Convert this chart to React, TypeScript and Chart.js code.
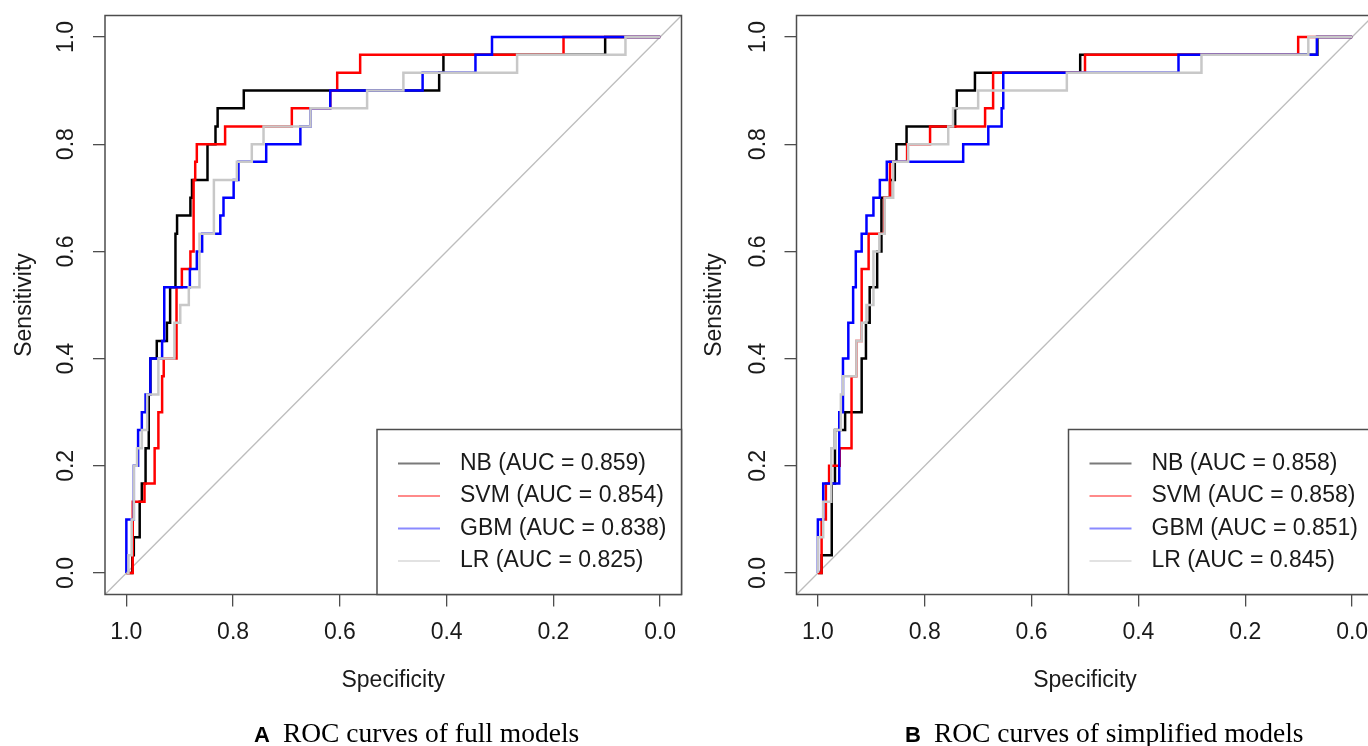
import React, { useEffect, useRef } from "react";
import { Chart, registerables } from "chart.js";

Chart.register(...registerables);

// ---------- data ----------
const tickValues = [0, 0.2, 0.4, 0.6, 0.8, 1.0];
const modelNames = ["NB", "SVM", "GBM", "LR"];
const aucFull = ["0.859", "0.854", "0.838", "0.825"];
const aucSimplified = ["0.858", "0.858", "0.851", "0.845"];

// Panel A: ROC curves of full models (specificity, sensitivity corner points)
const fullNbSpec = [1, 0.989, 0.986, 0.975, 0.971, 0.964, 0.958, 0.955, 0.943, 0.924, 0.918, 0.908, 0.905, 0.88, 0.877, 0.848, 0.833, 0.829, 0.78, 0.414, 0.406, 0.103, 0];
const fullNbSens = [0, 0.033, 0.067, 0.133, 0.167, 0.233, 0.333, 0.4, 0.433, 0.467, 0.533, 0.633, 0.667, 0.7, 0.733, 0.8, 0.833, 0.867, 0.9, 0.933, 0.967, 1, 1];
const fullSvmSpec = [1, 0.988, 0.966, 0.947, 0.94, 0.933, 0.93, 0.906, 0.896, 0.88, 0.874, 0.871, 0.868, 0.815, 0.69, 0.618, 0.605, 0.562, 0.181, 0];
const fullSvmSens = [0, 0.133, 0.167, 0.233, 0.3, 0.367, 0.4, 0.533, 0.567, 0.6, 0.733, 0.767, 0.8, 0.833, 0.867, 0.9, 0.933, 0.967, 1, 1];
const fullGbmSpec = [1, 1, 0.986, 0.978, 0.971, 0.964, 0.955, 0.933, 0.929, 0.881, 0.868, 0.858, 0.824, 0.818, 0.799, 0.79, 0.738, 0.674, 0.655, 0.618, 0.445, 0.346, 0.315, 0];
const fullGbmSens = [0, 0.1, 0.2, 0.267, 0.3, 0.333, 0.4, 0.433, 0.533, 0.567, 0.6, 0.633, 0.667, 0.7, 0.733, 0.767, 0.8, 0.833, 0.867, 0.9, 0.933, 0.967, 1, 1];
const fullLrSpec = [1, 0.996, 0.99, 0.986, 0.98, 0.971, 0.961, 0.94, 0.91, 0.899, 0.883, 0.863, 0.836, 0.793, 0.765, 0.743, 0.655, 0.549, 0.481, 0.268, 0.065, 0];
const fullLrSens = [0, 0.033, 0.1, 0.2, 0.233, 0.267, 0.333, 0.4, 0.467, 0.5, 0.533, 0.633, 0.733, 0.767, 0.8, 0.833, 0.867, 0.9, 0.933, 0.967, 1, 1];

// Panel B: ROC curves of simplified models
const simpNbSpec = [1, 0.993, 0.974, 0.968, 0.949, 0.918, 0.91, 0.903, 0.889, 0.881, 0.865, 0.856, 0.853, 0.834, 0.743, 0.74, 0.706, 0.509, 0.065, 0];
const simpNbSens = [0, 0.033, 0.167, 0.267, 0.3, 0.4, 0.467, 0.533, 0.6, 0.7, 0.733, 0.767, 0.8, 0.833, 0.867, 0.9, 0.933, 0.967, 1, 1];
const simpSvmSpec = [1, 0.993, 0.985, 0.979, 0.959, 0.937, 0.928, 0.918, 0.905, 0.876, 0.865, 0.833, 0.79, 0.687, 0.672, 0.5, 0.101, 0];
const simpSvmSens = [0, 0.1, 0.167, 0.2, 0.233, 0.367, 0.433, 0.567, 0.633, 0.7, 0.767, 0.8, 0.833, 0.867, 0.933, 0.967, 1, 1];
const simpGbmSpec = [1, 1, 0.99, 0.96, 0.953, 0.943, 0.934, 0.929, 0.918, 0.909, 0.896, 0.884, 0.871, 0.728, 0.681, 0.656, 0.653, 0.325, 0.066, 0];
const simpGbmSens = [0, 0.1, 0.167, 0.3, 0.4, 0.467, 0.533, 0.6, 0.633, 0.667, 0.7, 0.733, 0.767, 0.8, 0.833, 0.867, 0.933, 0.967, 1, 1];
const simpLrSpec = [1, 1, 0.99, 0.975, 0.968, 0.957, 0.953, 0.928, 0.918, 0.909, 0.896, 0.885, 0.875, 0.859, 0.831, 0.756, 0.747, 0.7, 0.534, 0.282, 0.082, 0];
const simpLrSens = [0, 0.067, 0.133, 0.233, 0.267, 0.333, 0.367, 0.433, 0.467, 0.5, 0.6, 0.633, 0.7, 0.767, 0.8, 0.833, 0.867, 0.9, 0.933, 0.967, 1, 1];

// chance diagonal (sensitivity = 1 - specificity), spanning the whole plot box
const diagSpec = [1.04, -0.04];
const diagSens = [-0.04, 1.04];

// ---------- styles ----------
const lineColors = ["#000000", "#ff0000", "#0000ff", "#c8c8c8"];
const legendColors = ["#7a7a7a", "#ff8a8a", "#8a8aff", "#e2e2e2"];
const SANS = "'Liberation Sans', Arial, Helvetica, sans-serif";
const SERIF = "'Liberation Serif', 'Times New Roman', serif";
const W = 1368;
const H = 746;

const toPoints = (xs: number[], ys: number[]) => xs.map((x, i) => ({ x, y: ys[i] }));

const boxPlugin = {
  id: "plotBox",
  afterDatasetsDraw(chart: any) {
    const { ctx, chartArea: a } = chart;
    ctx.save();
    ctx.strokeStyle = "#4d4d4d";
    ctx.lineWidth = 1.5;
    ctx.strokeRect(a.left, a.top, a.right - a.left, a.bottom - a.top);
    ctx.restore();
  },
};

const legendPlugin = {
  id: "rocLegend",
  afterDraw(chart: any, _args: any, opts: any) {
    const { ctx, chartArea: a } = chart;
    const right = a.right;
    const bottom = a.bottom;
    const left = right - opts.width;
    const top = bottom - opts.height;
    ctx.save();
    ctx.fillStyle = "#ffffff";
    ctx.fillRect(left, top, opts.width, opts.height);
    ctx.strokeStyle = "#4d4d4d";
    ctx.lineWidth = 1.5;
    ctx.strokeRect(left, top, opts.width, opts.height);
    ctx.font = `23px ${SANS}`;
    ctx.textBaseline = "middle";
    ctx.textAlign = "left";
    opts.labels.forEach((lab: string, i: number) => {
      const y = top + opts.firstRow + i * opts.rowGap;
      ctx.strokeStyle = legendColors[i];
      ctx.lineWidth = 2;
      ctx.beginPath();
      ctx.moveTo(left + 21, y);
      ctx.lineTo(left + 63, y);
      ctx.stroke();
      ctx.fillStyle = "#1a1a1a";
      ctx.fillText(lab, left + 83, y);
    });
    ctx.restore();
  },
};

type PanelCfg = {
  curves: { spec: number[]; sens: number[] }[];
  auc: string[];
  yAxisWidth: number;
  padRight: number;
  legendWidth: number;
};

function buildChart(canvas: HTMLCanvasElement, cfg: PanelCfg) {
  const datasets: any[] = cfg.curves.map((c, i) => ({
    label: modelNames[i],
    data: toPoints(c.spec, c.sens),
    borderColor: lineColors[i],
    backgroundColor: lineColors[i],
    borderWidth: 2.5,
    pointRadius: 0,
    fill: false,
    stepped: "before",
    order: 4 - i,
  }));
  datasets.push({
    label: "chance",
    data: toPoints(diagSpec, diagSens),
    borderColor: "#bdbdbd",
    borderWidth: 1.3,
    pointRadius: 0,
    fill: false,
    order: 10,
  });
  const fixedTicks = (s: any) => {
    s.ticks = tickValues.map((v) => ({ value: v }));
  };
  const tickFont = { family: SANS, size: 23 };
  return new Chart(canvas, {
    type: "line",
    data: { datasets },
    plugins: [boxPlugin, legendPlugin],
    options: {
      animation: false,
      responsive: false,
      maintainAspectRatio: false,
      layout: { padding: { left: 0, right: cfg.padRight, top: 15.5, bottom: 0 } },
      plugins: {
        legend: { display: false },
        tooltip: { enabled: false },
        title: { display: false },
        rocLegend: {
          labels: modelNames.map((m, i) => `${m} (AUC = ${cfg.auc[i]})`),
          width: cfg.legendWidth,
          height: 165,
          firstRow: 34,
          rowGap: 32.5,
        },
      } as any,
      scales: {
        x: {
          type: "linear",
          reverse: true,
          min: -0.04,
          max: 1.04,
          afterBuildTicks: fixedTicks,
          afterFit: (s: any) => {
            s.height = H - 594.5;
            s.paddingLeft = 0;
            s.paddingRight = 0;
          },
          border: { display: false },
          grid: { display: true, drawOnChartArea: false, drawTicks: true, tickLength: 12, color: "#4d4d4d", lineWidth: 1.3 },
          ticks: {
            autoSkip: false,
            maxRotation: 0,
            minRotation: 0,
            font: tickFont,
            color: "#1a1a1a",
            padding: 12,
            callback: (v: any) => Number(v).toFixed(1),
          },
          title: {
            display: true,
            text: "Specificity",
            font: { family: SANS, size: 23 },
            color: "#1a1a1a",
            padding: { top: 0, bottom: 52 },
          },
        },
        y: {
          type: "linear",
          min: -0.04,
          max: 1.04,
          afterBuildTicks: fixedTicks,
          afterFit: (s: any) => {
            s.width = cfg.yAxisWidth;
            s.paddingTop = 0;
            s.paddingBottom = 0;
          },
          border: { display: false },
          grid: { display: true, drawOnChartArea: false, drawTicks: true, tickLength: 12, color: "#4d4d4d", lineWidth: 1.3 },
          ticks: {
            autoSkip: false,
            minRotation: 90,
            maxRotation: 90,
            crossAlign: "center",
            font: tickFont,
            color: "#1a1a1a",
            padding: 10,
            callback: (v: any) => Number(v).toFixed(1),
          },
          title: {
            display: true,
            text: "Sensitivity",
            font: { family: SANS, size: 23 },
            color: "#1a1a1a",
            padding: { top: 11, bottom: 0 },
          },
        },
      },
    } as any,
  });
}

const panelA: PanelCfg = {
  curves: [
    { spec: fullNbSpec, sens: fullNbSens },
    { spec: fullSvmSpec, sens: fullSvmSens },
    { spec: fullGbmSpec, sens: fullGbmSens },
    { spec: fullLrSpec, sens: fullLrSens },
  ],
  auc: aucFull,
  yAxisWidth: 105,
  padRight: 690 - 681.5,
  legendWidth: 304.5,
};

const panelB: PanelCfg = {
  curves: [
    { spec: simpNbSpec, sens: simpNbSens },
    { spec: simpSvmSpec, sens: simpSvmSens },
    { spec: simpGbmSpec, sens: simpGbmSens },
    { spec: simpLrSpec, sens: simpLrSens },
  ],
  auc: aucSimplified,
  yAxisWidth: 106.5,
  padRight: 700 - 683.5,
  legendWidth: 305,
};

export default function App() {
  const refA = useRef<HTMLCanvasElement>(null);
  const refB = useRef<HTMLCanvasElement>(null);

  useEffect(() => {
    const a = buildChart(refA.current!, panelA);
    const b = buildChart(refB.current!, panelB);
    return () => {
      a.destroy();
      b.destroy();
    };
  }, []);

  const captionStyle: React.CSSProperties = {
    position: "absolute",
    top: 718,
    whiteSpace: "nowrap",
    lineHeight: "30px",
    color: "#000",
  };

  return (
    <div style={{ position: "fixed", left: 0, top: 0, width: W, height: H, overflow: "hidden", background: "#fff" }}>
      <canvas ref={refA} width={690} height={H} style={{ position: "absolute", left: 0, top: 0 }} />
      <canvas ref={refB} width={700} height={H} style={{ position: "absolute", left: 690, top: 0 }} />
      <div style={{ ...captionStyle, left: 254 }}>
        <span style={{ fontFamily: SANS, fontWeight: "bold", fontSize: 22 }}>A</span>
        <span style={{ fontFamily: SERIF, fontSize: 27.5, marginLeft: 13 }}>ROC curves of full models</span>
      </div>
      <div style={{ ...captionStyle, left: 905 }}>
        <span style={{ fontFamily: SANS, fontWeight: "bold", fontSize: 22 }}>B</span>
        <span style={{ fontFamily: SERIF, fontSize: 27.5, marginLeft: 13 }}>ROC curves of simplified models</span>
      </div>
    </div>
  );
}
